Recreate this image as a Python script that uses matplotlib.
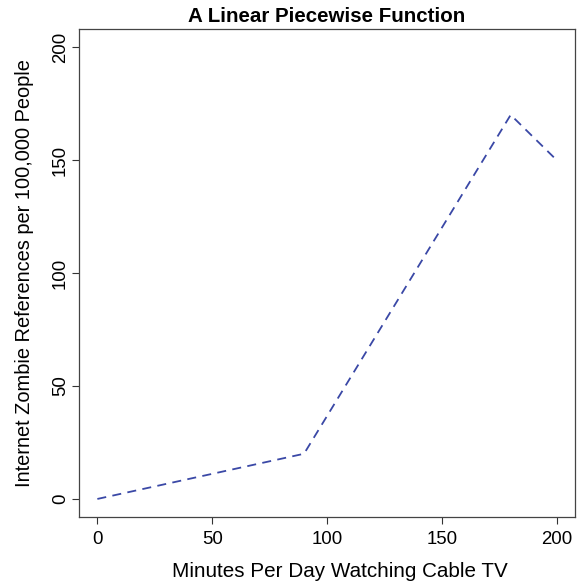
import matplotlib.pyplot as plt

# Piecewise linear data
minutes = [0, 90, 180, 200]
zombie_refs = [0, 20, 170, 150]
x_ticks = [0, 50, 100, 150, 200]
y_ticks = [0, 50, 100, 150, 200]

plt.rcParams['font.family'] = ['Liberation Sans', 'DejaVu Sans']

fig = plt.figure(figsize=(5.77, 5.85), dpi=100)
ax = fig.add_axes([0.1369, 0.1162, 0.8596, 0.8342])

ax.plot(minutes, zombie_refs, color="#3a48a6", linewidth=1.3, linestyle=(0, (5, 3.5)))

ax.set_xlim(-8, 208)
ax.set_ylim(-8, 208)
ax.set_xticks(x_ticks)
ax.set_yticks(y_ticks)
ax.set_yticklabels([str(v) for v in y_ticks], rotation=90, va="center")
ax.tick_params(axis="both", length=4.8, width=0.8, color="#333333", labelsize=13.4)
ax.tick_params(axis="x", pad=5)
ax.tick_params(axis="y", pad=2.4)
for s in ax.spines.values():
    s.set_color("#444444")
    s.set_linewidth(0.9)

ax.set_xlabel("Minutes Per Day Watching Cable TV", fontsize=14.9)
ax.xaxis.set_label_coords(0.526, -0.1107)
ax.xaxis.label.set_va("center")
ax.set_ylabel("Internet Zombie References per 100,000 People", fontsize=14.4)
ax.yaxis.set_label_coords(-0.1089, 0.5)
ax.yaxis.label.set_va("center")
ax.text(0.5, 1.0266, "A Linear Piecewise Function", transform=ax.transAxes,
        ha="center", va="center", fontsize=14.8, fontweight="bold")

fig.savefig("out.png", dpi=100)
